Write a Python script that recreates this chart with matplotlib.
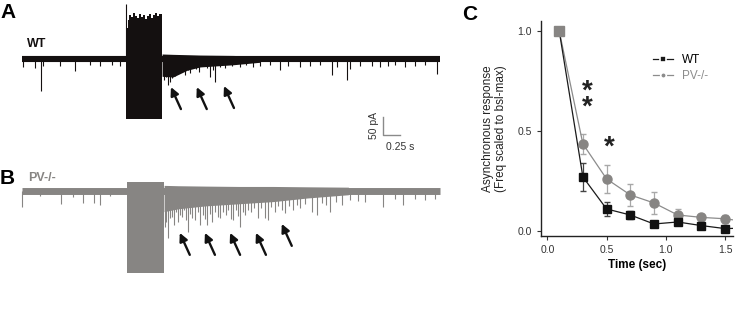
import matplotlib
matplotlib.use("Agg")
import matplotlib.pyplot as plt
from matplotlib.lines import Line2D

plt.rcParams["font.family"] = ["Liberation Sans", "DejaVu Sans"]

# ── Panel C: asynchronous release decay ───────────────────────────────────────
TIME    = [0.1, 0.3, 0.5, 0.7, 0.9, 1.1, 1.3, 1.5, 1.7]
WT_RESP = [1.00, 0.27, 0.11, 0.08, 0.035, 0.045, 0.027, 0.012, 0.015]
WT_ERR  = [0.0, 0.07, 0.035, 0.02, 0.012, 0.01, 0.01, 0.01, 0.0]
PV_RESP = [1.00, 0.435, 0.26, 0.18, 0.14, 0.08, 0.068, 0.061, 0.045]
PV_ERR  = [0.0, 0.05, 0.07, 0.055, 0.053, 0.03, 0.015, 0.02, 0.0]
STAR_T     = [0.34, 0.52]
STAR_Y     = [0.655, 0.415]
STAR_LABEL = ["*\n*", "*"]

# ── Panels A/B: example traces (time in s, current in pA) ─────────────────────
TRACE_END = 6.15
WT_STIM_T   = [1.53, 1.545, 1.56, 1.58, 1.60, 1.63, 1.66, 1.69, 1.72, 1.75,
               1.78, 1.81, 1.84, 1.87, 1.90, 1.93, 1.96, 1.99, 2.02, 2.06]
WT_STIM_TOP = [86, 86, 108, 122, 117, 128, 119, 114, 125, 117,
               122, 111, 119, 125, 114, 122, 128, 119, 125, 122]
WT_STIM_BOT = -167
WT_STIM_SPIKE = 153
WT_POST_T  = [2.06, 2.22, 2.43, 2.62, 3.10, 3.50]
WT_POST_LO = [-48, -50, -31, -22, -16, -9]
WT_POST_HI = [14, 13, 12, 11, 10, 8]
WT_EV_T   = [0.02, 0.19, 0.275, 0.31, 0.56, 0.78, 1.00, 1.15, 1.32, 1.44,
             2.09, 2.12, 2.15, 2.18, 2.21, 2.25, 2.29, 2.34, 2.40, 2.44,
             2.47, 2.51, 2.56, 2.60, 2.66, 2.72, 2.76, 2.81, 2.84, 2.91,
             2.99, 3.09, 3.21, 3.29, 3.40, 3.50, 3.65, 3.79, 3.91, 4.09,
             4.24, 4.38, 4.56, 4.63, 4.78, 4.82, 4.97, 5.15, 5.26, 5.38,
             5.49, 5.63, 5.78, 5.93, 6.10]
WT_EV_AMP = [21, 25, 88, 19, 19, 32, 17, 19, 17, 19,
             58, 50, 72, 64, 53, 47, 42, 36, 44, 31,
             39, 25, 28, 36, 19, 25, 50, 31, 64, 22,
             25, 19, 22, 17, 22, 19, 17, 31, 19, 22,
             19, 17, 44, 22, 58, 28, 19, 19, 22, 19,
             17, 22, 19, 17, 42]

PV_OFFSET   = -366
PV_STIM_T   = [1.544, 2.088]
PV_STIM_TOP = [24, 24]
PV_STIM_BOT = -229
PV_POST_T  = [2.09, 2.30, 2.70, 3.20, 3.70, 4.20, 4.80]
PV_POST_LO = [-58, -50, -42, -36, -30, -20, -11]
PV_POST_HI = [15, 14, 13, 12, 12, 11, 10]
PV_EV_T   = [0.0, 0.26, 0.58, 0.75, 0.89, 1.06, 1.15, 1.29,
             2.10, 2.12, 2.15, 2.18, 2.21, 2.24, 2.26, 2.29, 2.32, 2.35,
             2.38, 2.41, 2.44, 2.47, 2.50, 2.54, 2.59, 2.62, 2.66, 2.69,
             2.72, 2.76, 2.79, 2.84, 2.88, 2.91, 2.96, 3.00, 3.03, 3.07,
             3.10, 3.15, 3.18, 3.21, 3.25, 3.28, 3.32, 3.37, 3.41, 3.47,
             3.51, 3.57, 3.62, 3.66, 3.72, 3.76, 3.82, 3.87, 3.93, 3.99,
             4.04, 4.09, 4.16, 4.26, 4.34, 4.41, 4.47, 4.53, 4.62, 4.71,
             4.82, 4.94, 5.04, 5.31, 5.49, 5.60, 5.78, 5.93, 6.07]
PV_EV_AMP = [44, 15, 37, 18, 34, 34, 40, 15,
             101, 87, 131, 76, 73, 95, 59, 87, 67, 73,
             54, 81, 115, 65, 76, 81, 59, 95, 67, 79,
             95, 65, 87, 59, 73, 76, 59, 67, 54, 79,
             81, 54, 70, 101, 59, 67, 54, 59, 48, 76,
             48, 76, 81, 45, 59, 43, 54, 62, 43, 54,
             40, 48, 37, 59, 67, 34, 40, 59, 31, 40,
             26, 29, 31, 45, 23, 40, 23, 26, 23]

WT_ARROW_T     = [2.19, 2.57, 2.97]
WT_ARROW_DEPTH = [78, 78, 75]
PV_ARROW_T     = [2.32, 2.69, 3.06, 3.44, 3.82]
PV_ARROW_DEPTH = [117, 117, 117, 117, 92]

SCALE_T, SCALE_PA = 0.25, 50
SCALE_X0, SCALE_Y0 = 5.31, -211

WT_C = "#141010"
PV_C = "#878583"

fig = plt.figure(figsize=(7.36, 3.11), dpi=100)

# ── Traces ────────────────────────────────────────────────────────────────────
ax = fig.add_axes([0, 0, 460 / 736, 1])
ax.set_xlim(-0.3235, 6.441)
ax.set_ylim(-700, 164)
ax.axis("off")

arrow_kw = dict(arrowstyle="-|>", color="#111", lw=1.7, mutation_scale=12, shrinkA=0, shrinkB=0)

# WT
ax.plot([0, TRACE_END], [0, 0], color=WT_C, lw=4.4, solid_capstyle="butt")
ax.fill_between(WT_POST_T, WT_POST_LO, WT_POST_HI, color=WT_C, lw=0)
ax.vlines(WT_EV_T, [-a for a in WT_EV_AMP], 0, color=WT_C, lw=0.8)
ax.fill_between(WT_STIM_T, WT_STIM_BOT, WT_STIM_TOP, color=WT_C, lw=0, step="post")
ax.vlines(WT_STIM_T[0], 0, WT_STIM_SPIKE, color=WT_C, lw=0.8)
for t, d in zip(WT_ARROW_T, WT_ARROW_DEPTH):
    ax.annotate("", xy=(t, -d), xytext=(t + 0.147, -d - 61), arrowprops=arrow_kw)

# PV-/-
ax.plot([0, TRACE_END], [PV_OFFSET, PV_OFFSET], color=PV_C, lw=5, solid_capstyle="butt")
ax.fill_between(PV_POST_T, [PV_OFFSET + v for v in PV_POST_LO],
                [PV_OFFSET + v for v in PV_POST_HI], color=PV_C, lw=0)
ax.vlines(PV_EV_T, [PV_OFFSET - a for a in PV_EV_AMP], PV_OFFSET, color=PV_C, lw=0.8)
ax.fill_between(PV_STIM_T, [PV_OFFSET + PV_STIM_BOT] * 2,
                [PV_OFFSET + v for v in PV_STIM_TOP], color=PV_C, lw=0)
for t, d in zip(PV_ARROW_T, PV_ARROW_DEPTH):
    ax.annotate("", xy=(t, PV_OFFSET - d), xytext=(t + 0.147, PV_OFFSET - d - 61),
                arrowprops=arrow_kw)

# scale bar
ax.plot([SCALE_X0, SCALE_X0, SCALE_X0 + SCALE_T],
        [SCALE_Y0 + SCALE_PA, SCALE_Y0, SCALE_Y0], color="#8a8a8a", lw=1)
ax.text(SCALE_X0 - 0.06, SCALE_Y0 + SCALE_PA / 2, f"{SCALE_PA} pA", rotation=90,
        ha="right", va="center", fontsize=7.5, color="#333")
ax.text(SCALE_X0 + SCALE_T, SCALE_Y0 - 20, f"{SCALE_T} s", ha="center", va="top",
        fontsize=7.5, color="#333")

fig.text(0.0, 1 - 12 / 311, "A", fontsize=15, fontweight="bold", va="center")
fig.text(27 / 736, 1 - 44 / 311, "WT", fontsize=9, fontweight="bold", va="center", color=WT_C)
fig.text(0.0, 1 - 178 / 311, "B", fontsize=15, fontweight="bold", va="center")
fig.text(28 / 736, 1 - 178 / 311, "PV-/-", fontsize=9, fontweight="bold", va="center", color=PV_C)
fig.text(462 / 736, 1 - 14 / 311, "C", fontsize=15, fontweight="bold", va="center")

# ── Panel C ───────────────────────────────────────────────────────────────────
axc = fig.add_axes([540.7 / 736, 1 - 236 / 311, (733 - 540.7) / 736, (236 - 20.7) / 311])
axc.set_xlim(-0.056, 1.567)
axc.set_ylim(-0.025, 1.05)

axc.errorbar(TIME, PV_RESP, yerr=PV_ERR, color="#8c8c8c", ecolor="#a8a8a8", lw=0.9,
             elinewidth=0.9, capsize=2.5, marker="o", ms=6.5, mfc=PV_C, mec=PV_C,
             markevery=list(range(1, len(TIME))), zorder=2)
axc.errorbar(TIME, WT_RESP, yerr=WT_ERR, color="#1a1a1a", ecolor="#444", lw=0.9,
             elinewidth=0.9, capsize=2.5, marker="s", ms=6, mfc="#111", mec="#111", zorder=3)
axc.plot(TIME[:1], PV_RESP[:1], "s", ms=6.5, color=PV_C, zorder=4)

# significance asterisks
for t, y, s in zip(STAR_T, STAR_Y, STAR_LABEL):
    axc.text(t, y, s, fontsize=20, fontweight="bold", ha="center", va="center",
             linespacing=0.52, color="#222")

for s in ("top", "right"):
    axc.spines[s].set_visible(False)
for s in ("left", "bottom"):
    axc.spines[s].set_color("#222")
    axc.spines[s].set_linewidth(1)
axc.set_xticks([0.0, 0.5, 1.0, 1.5])
axc.set_yticks([0.0, 0.5, 1.0])
axc.xaxis.set_major_formatter(plt.FuncFormatter(lambda x, _: f"{x:.1f}"))
axc.yaxis.set_major_formatter(plt.FuncFormatter(lambda x, _: f"{x:.1f}"))
axc.tick_params(labelsize=7.5, colors="#333", length=3, width=0.8)
axc.set_xlabel("Time (sec)", fontsize=8.5, fontweight="bold", labelpad=3)
axc.set_ylabel("Asynchronous response\n(Freq scaled to bsl-max)", fontsize=8.5,
               color="#222", labelpad=7)

handles = [Line2D([], [], color="#1a1a1a", lw=0.9, marker="s", ms=4, mec="white", mew=1.2),
           Line2D([], [], color="#8c8c8c", lw=0.9, marker="o", ms=4, mec="white", mew=1.2)]
leg = axc.legend(handles, ["WT", "PV-/-"], loc="upper left", frameon=False, fontsize=8.5,
                 bbox_to_anchor=(647 / 736, 1 - 48 / 311), bbox_transform=fig.transFigure,
                 handlelength=1.7, handletextpad=0.8, labelspacing=0.35, borderpad=0)
leg.get_texts()[1].set_color("#8c8c8c")

plt.savefig("out.png", dpi=100)
plt.close()
